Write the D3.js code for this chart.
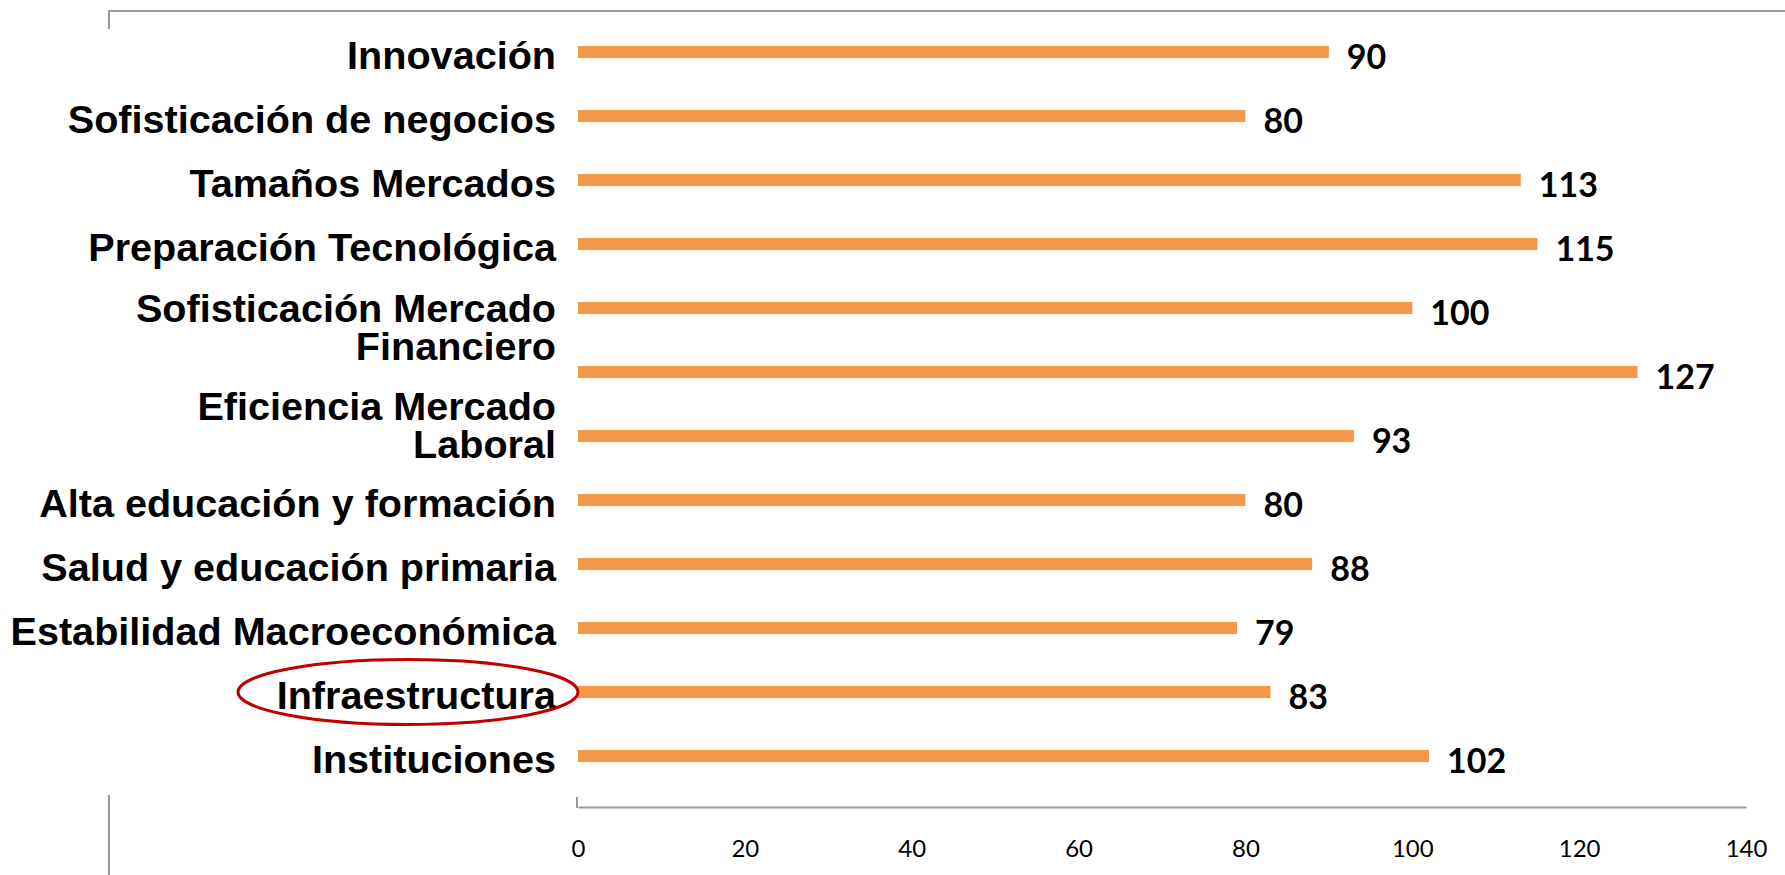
<!DOCTYPE html>
<html>
<head>
<meta charset="utf-8">
<script src="https://cdn.jsdelivr.net/npm/d3@7"></script>
<style>
  html, body { margin: 0; padding: 0; background: #ffffff; }
  svg { display: block; }
</style>
</head>
<body>
<svg id="chart" width="1785" height="875"></svg>
<script>
// ---- data (top to bottom as drawn) ----
const categories = [
  "Innovación",
  "Sofisticación de negocios",
  "Tamaños Mercados",
  "Preparación Tecnológica",
  "Sofisticación Mercado\nFinanciero",
  "",
  "Eficiencia Mercado\nLaboral",
  "Alta educación y formación",
  "Salud y educación primaria",
  "Estabilidad Macroeconómica",
  "Infraestructura",
  "Instituciones"
];
const values = [90, 80, 113, 115, 100, 127, 93, 80, 88, 79, 83, 102];
const xTicks = [0, 20, 40, 60, 80, 100, 120, 140];
const highlighted = "Infraestructura";

// ---- layout ----
const svg = d3.select("#chart");
const W = 1785, H = 875;
const x = d3.scaleLinear().domain([0, 140]).range([578, 1746]);
const y = d3.scaleBand().domain(d3.range(categories.length))
  .range([20, 788]).paddingInner(0.8125).paddingOuter(0.40625);
const axisY = 807;
const gray = "#9a9a9a";

// frame fragments
svg.append("line").attr("x1", 109).attr("x2", W).attr("y1", 11).attr("y2", 11)
  .attr("stroke", gray).attr("stroke-width", 2);
svg.append("line").attr("x1", 109).attr("x2", 109).attr("y1", 10).attr("y2", 29)
  .attr("stroke", gray).attr("stroke-width", 2);
svg.append("line").attr("x1", 109).attr("x2", 109).attr("y1", 795).attr("y2", H)
  .attr("stroke", gray).attr("stroke-width", 2);

// bars
svg.append("g").selectAll("rect").data(values).join("rect")
  .attr("x", x(0))
  .attr("y", (d, i) => y(i))
  .attr("width", d => x(d) - x(0))
  .attr("height", y.bandwidth())
  .attr("fill", "#F79646");

// value labels
svg.append("g").selectAll("text").data(values).join("text")
  .attr("x", d => x(d) + 18)
  .attr("y", (d, i) => y(i) + y.bandwidth() / 2 + 5)
  .attr("dy", "0.36em")
  .attr("font-family", "Lato, 'Open Sans', sans-serif")
  .attr("font-weight", 700)
  .attr("font-size", 34)
  .attr("fill", "#000")
  .text(d => d);

// category labels
const lineH = 38;
const xr = 556;
const labG = svg.append("g")
  .attr("font-family", "'Liberation Sans', Arial, sans-serif")
  .attr("font-weight", 700)
  .attr("font-size", 39.6)
  .attr("fill", "#000")
  .attr("text-anchor", "end");
categories.forEach((c, i) => {
  if (!c) return;
  const lines = c.split("\n");
  const cy = y(i) + y.bandwidth() / 2;
  let startY;
  if (lines.length > 1) {
    if (categories[i + 1] === "") startY = cy;            // flow downward
    else startY = cy + 8 - (lines.length - 1) * lineH;    // flow upward
  } else {
    startY = cy + 3;
  }
  const t = labG.append("text").attr("x", xr).attr("y", startY);
  lines.forEach((ln, k) => {
    t.append("tspan").attr("x", xr).attr("y", startY + k * lineH)
      .attr("dy", "0.36em").text(ln);
  });
  if (c === highlighted) {
    svg.append("ellipse")
      .attr("cx", 408).attr("cy", cy)
      .attr("rx", 170).attr("ry", 32.5)
      .attr("fill", "none").attr("stroke", "#C00000").attr("stroke-width", 3);
  }
});

// x axis
const ax = svg.append("g").attr("transform", `translate(0,${axisY})`)
  .call(d3.axisBottom(x).tickValues(xTicks).tickSize(0).tickSizeOuter(0));
ax.select(".domain").attr("stroke", gray).attr("stroke-width", 2);
ax.selectAll("text")
  .attr("y", 41).attr("dy", "0.36em")
  .attr("font-family", "Lato, 'Open Sans', sans-serif")
  .attr("font-size", 24)
  .attr("fill", "#000");
svg.append("line").attr("x1", x(0) - 1).attr("x2", x(0) - 1)
  .attr("y1", axisY - 10).attr("y2", axisY + 1)
  .attr("stroke", gray).attr("stroke-width", 2);
</script>
</body>
</html>
